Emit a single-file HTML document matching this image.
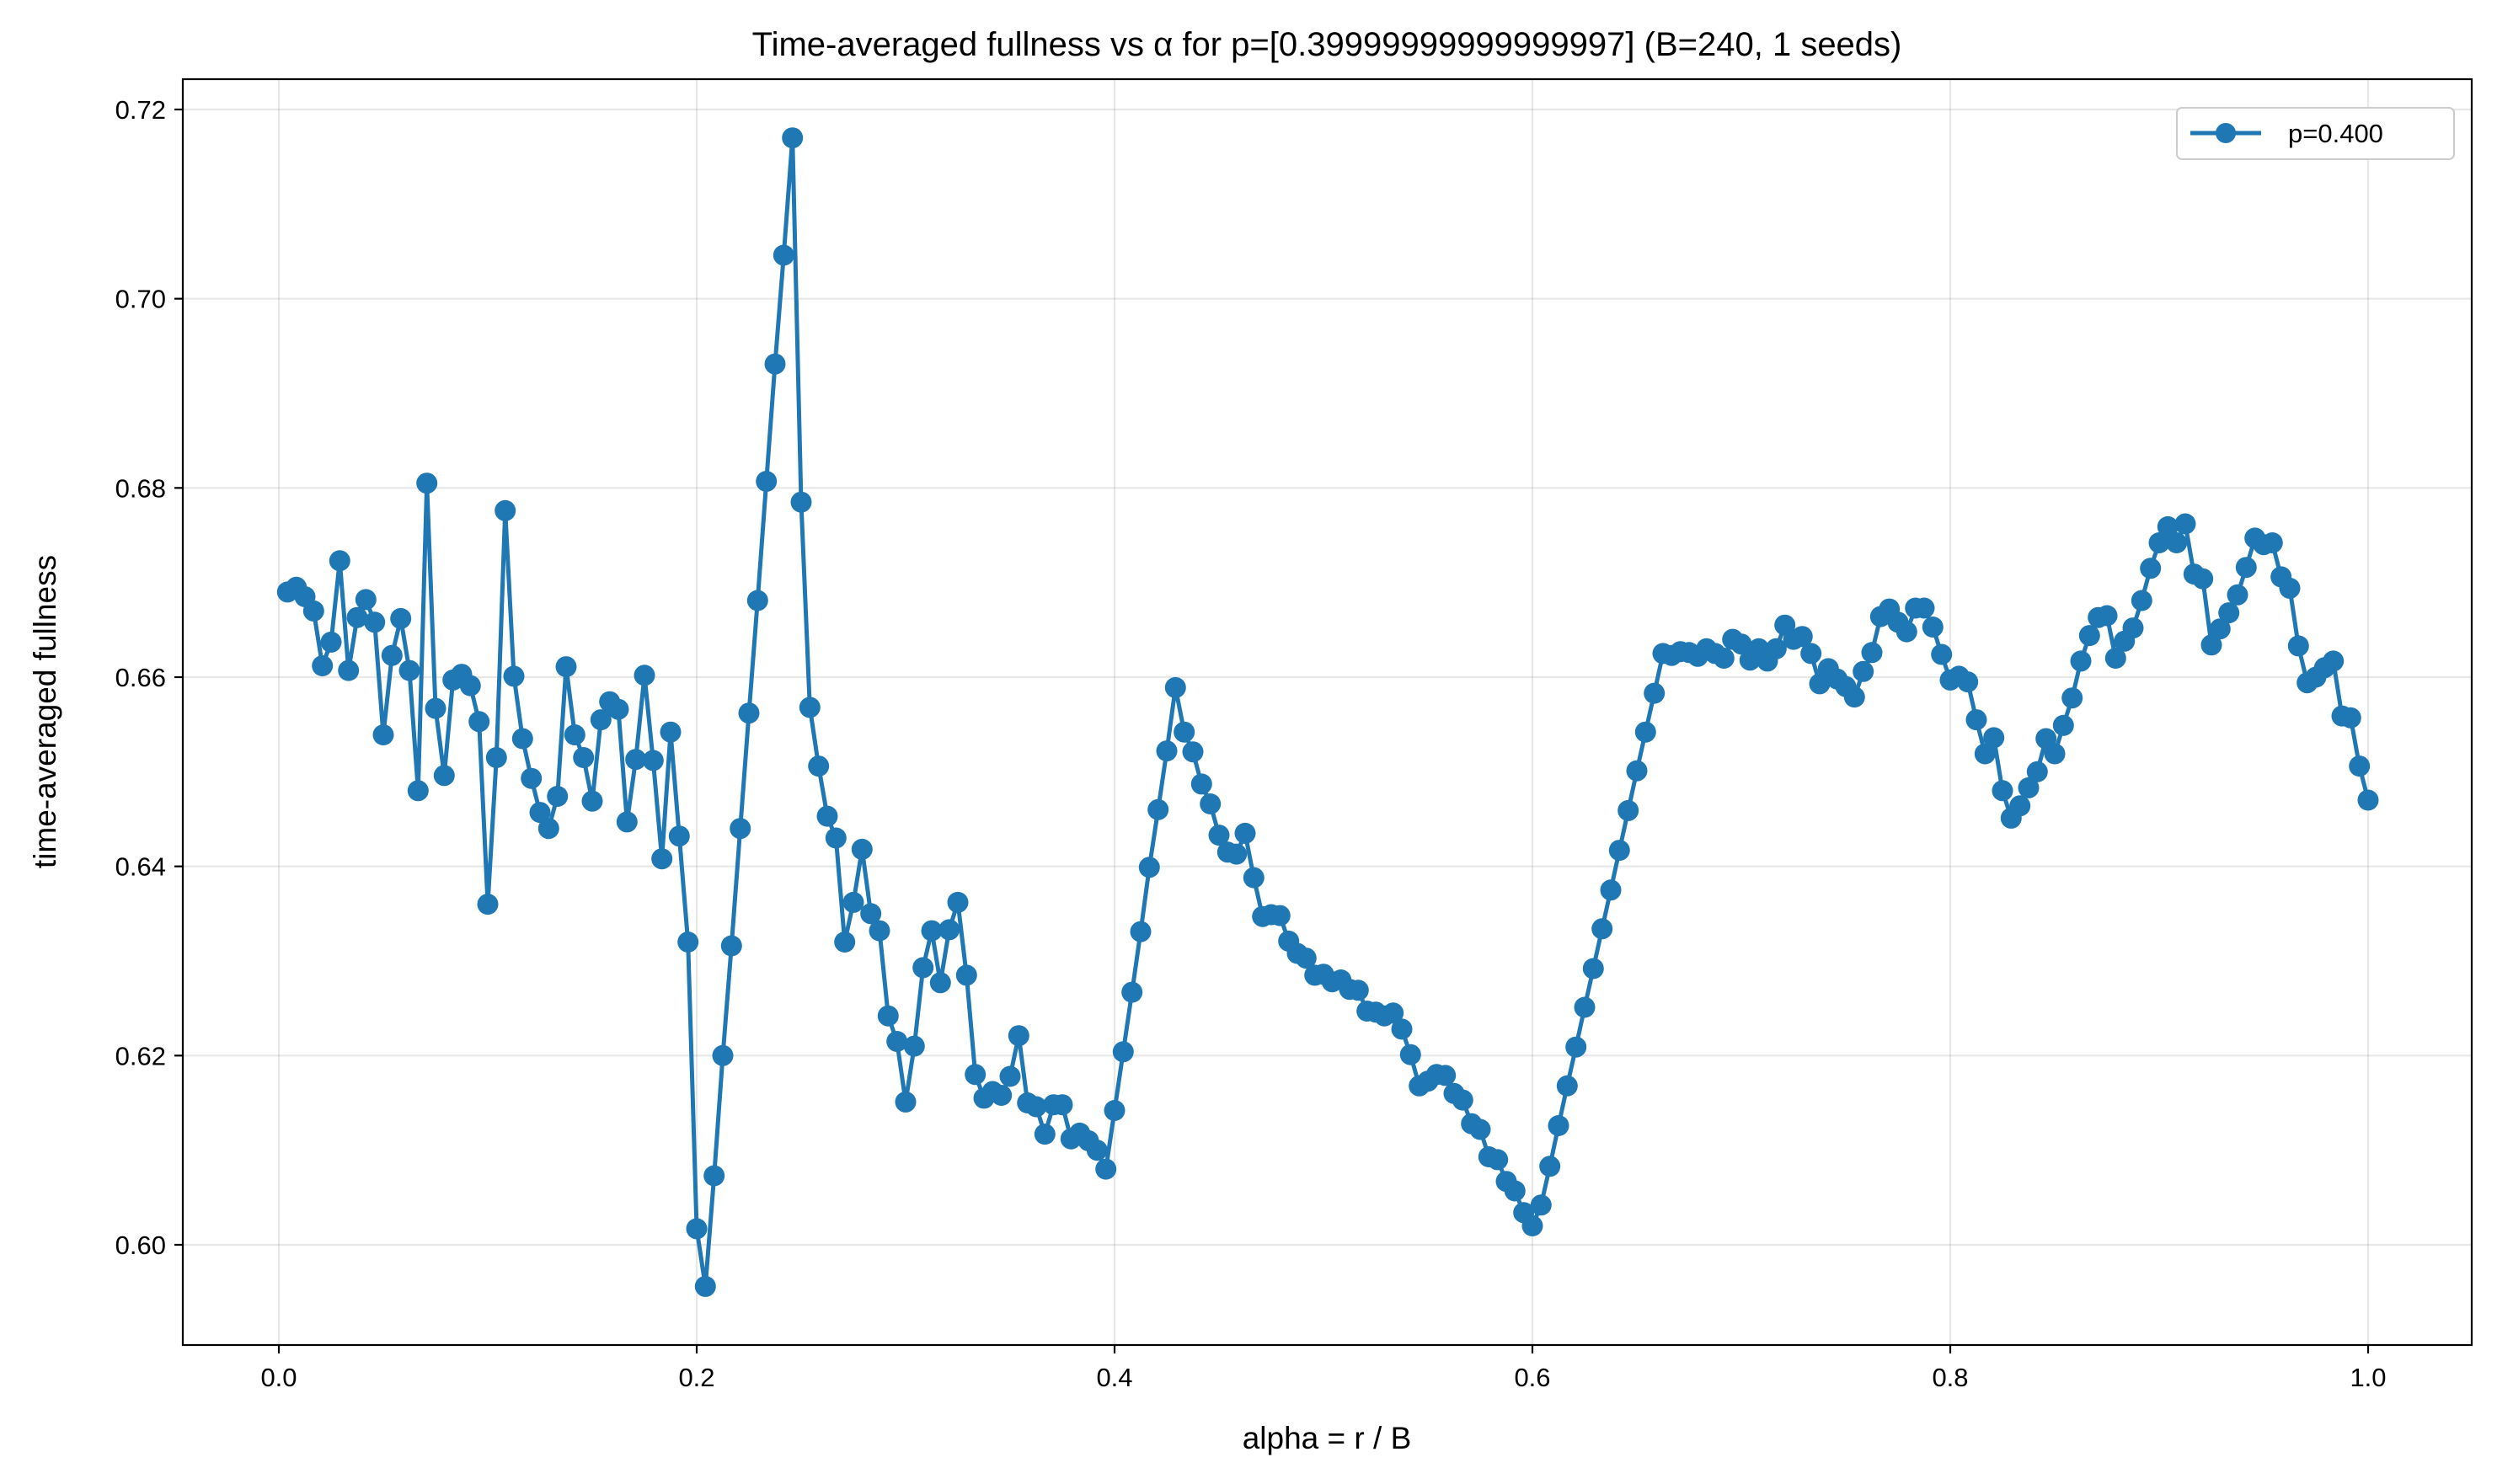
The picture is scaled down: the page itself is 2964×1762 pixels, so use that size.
<!DOCTYPE html>
<html><head><meta charset="utf-8"><style>
html,body{margin:0;padding:0;background:#fff;}
svg{display:block;font-family:"Liberation Sans",sans-serif;}
</style></head><body>
<svg id="chart" width="2964" height="1762" viewBox="0 0 2964 1762" xmlns="http://www.w3.org/2000/svg">
<rect x="0" y="0" width="2964" height="1762" fill="#fff"/>
<g id="grid"></g>
<g id="series"></g>
<rect x="217" y="94" width="2717" height="1503" fill="none" stroke="#000" stroke-width="2.2"/>
<g id="ticks"></g>
<text x="1575" y="66" font-size="40" text-anchor="middle">Time-averaged fullness vs α for p=[0.39999999999999997] (B=240, 1 seeds)</text>
<text x="1575" y="1720" font-size="37" text-anchor="middle">alpha = r / B</text>
<text transform="translate(66,845) rotate(-90)" font-size="37" text-anchor="middle">time-averaged fullness</text>
<g>
<rect x="2584" y="128" width="329" height="61" rx="6" fill="#fff" stroke="#ccc" stroke-width="2"/>
<line x1="2600" y1="158" x2="2684" y2="158" stroke="#1f77b4" stroke-width="5"/>
<circle cx="2642" cy="158" r="12" fill="#1f77b4"/>
<text x="2716" y="169" font-size="31">p=0.400</text>
</g>
</svg>
<script>
const fullness = [
0.669,0.6695,0.6685,0.667,0.6612,0.6637,0.6723,0.6607,0.6663,0.6682,
0.6658,0.6539,0.6623,0.6662,0.6607,0.6480,0.6805,0.6567,0.6496,0.6597,
0.6603,0.6591,0.6553,0.6360,0.6515,0.6776,0.6601,0.6535,0.6493,0.6457,
0.6440,0.6474,0.6611,0.6539,0.6515,0.6469,0.6555,0.6574,0.6566,0.6447,
0.6513,0.6602,0.6512,0.6408,0.6542,0.6432,0.6320,0.6017,0.5956,0.6073,
0.6200,0.6316,0.6440,0.6562,0.6681,0.6807,0.6931,0.7046,0.7170,0.6785,
0.6568,0.6506,0.6453,0.6430,0.6320,0.6362,0.6418,0.6350,0.6332,0.6242,
0.6215,0.6151,0.6210,0.6293,0.6332,0.6277,0.6333,0.6362,0.6285,0.6180,
0.6155,0.6162,0.6158,0.6178,0.6221,0.6150,0.6146,0.6117,0.6148,0.6148,
0.6112,0.6118,0.6110,0.6100,0.6080,0.6142,0.6204,0.6267,0.6331,0.6399,
0.6460,0.6522,0.6589,0.6542,0.6521,0.6487,0.6466,0.6433,0.6415,0.6413,
0.6435,0.6388,0.6347,0.6349,0.6348,0.6321,0.6308,0.6303,0.6285,0.6286,
0.6278,0.6280,0.6270,0.6269,0.6247,0.6246,0.6242,0.6245,0.6228,0.6201,
0.6168,0.6173,0.6180,0.6179,0.6160,0.6153,0.6128,0.6122,0.6093,0.6090,
0.6067,0.6057,0.6034,0.6020,0.6042,0.6083,0.6126,0.6168,0.6209,0.6251,
0.6292,0.6334,0.6375,0.6417,0.6459,0.6501,0.6542,0.6583,0.6625,0.6623,
0.6627,0.6626,0.6622,0.6630,0.6625,0.6620,0.6640,0.6635,0.6618,0.6630,
0.6617,0.6630,0.6655,0.6640,0.6643,0.6625,0.6593,0.6609,0.6598,0.6590,
0.6579,0.6606,0.6626,0.6664,0.6672,0.6658,0.6648,0.6673,0.6673,0.6653,
0.6624,0.6597,0.6601,0.6595,0.6555,0.6519,0.6536,0.6480,0.6451,0.6464,
0.6483,0.6500,0.6535,0.6519,0.6549,0.6578,0.6617,0.6644,0.6663,0.6665,
0.6620,0.6638,0.6652,0.6681,0.6715,0.6742,0.6759,0.6742,0.6762,0.6709,
0.6704,0.6634,0.6651,0.6668,0.6687,0.6716,0.6747,0.6740,0.6742,0.6706,
0.6694,0.6633,0.6594,0.6600,0.6610,0.6617,0.6559,0.6557,0.6506,0.6470
];
const budget = 240;
const xTickValues = [0.0,0.2,0.4,0.6,0.8,1.0];
const xTickLabels = ["0.0","0.2","0.4","0.6","0.8","1.0"];
const yTickValues = [0.60,0.62,0.64,0.66,0.68,0.70,0.72];
const yTickLabels = ["0.60","0.62","0.64","0.66","0.68","0.70","0.72"];

const NS = "http://www.w3.org/2000/svg";
function xs(v){ return 331 + v*(2811-331); }
function ys(v){ return 1478 - (v-0.60)*(1478-130)/0.12; }
function mk(tag, attrs, parent){
  const e = document.createElementNS(NS, tag);
  for (const k in attrs) e.setAttribute(k, attrs[k]);
  parent.appendChild(e);
  return e;
}
const grid = document.getElementById('grid');
const ticks = document.getElementById('ticks');
const series = document.getElementById('series');

xTickValues.forEach((v,i)=>{
  const x = xs(v);
  const g = mk('line',{x1:x,y1:94,x2:x,y2:1597,stroke:'#b0b0b0','stroke-opacity':0.3,'stroke-width':2.2},grid);
  
  
  const t = mk('line',{x1:x,y1:1597,x2:x,y2:1607,stroke:'#000','stroke-width':2.2},ticks);
  
  
  const l = mk('text',{x:x,y:1646,'font-size':31,'text-anchor':'middle'},ticks);
  l.textContent = xTickLabels[i];
  
  
});
yTickValues.forEach((v,i)=>{
  const y = ys(v);
  const g = mk('line',{x1:217,y1:y,x2:2934,y2:y,stroke:'#b0b0b0','stroke-opacity':0.3,'stroke-width':2.2},grid);
  
  
  const t = mk('line',{x1:207,y1:y,x2:217,y2:y,stroke:'#000','stroke-width':2.2},ticks);
  
  
  const l = mk('text',{x:197,y:y+11,'font-size':31,'text-anchor':'end'},ticks);
  l.textContent = yTickLabels[i];
  
  
});

const pts = fullness.map((v,i)=>[xs((i+1)/budget), ys(v)]);
const line = mk('polyline',{points:pts.map(p=>p[0].toFixed(1)+','+p[1].toFixed(1)).join(' '),fill:'none',stroke:'#1f77b4','stroke-width':5,'stroke-linejoin':'round'},series);


pts.forEach(p=>{
  const c = mk('circle',{cx:p[0].toFixed(1),cy:p[1].toFixed(1),r:12.5,fill:'#1f77b4'},series);
  
  
});
</script>
</body></html>
